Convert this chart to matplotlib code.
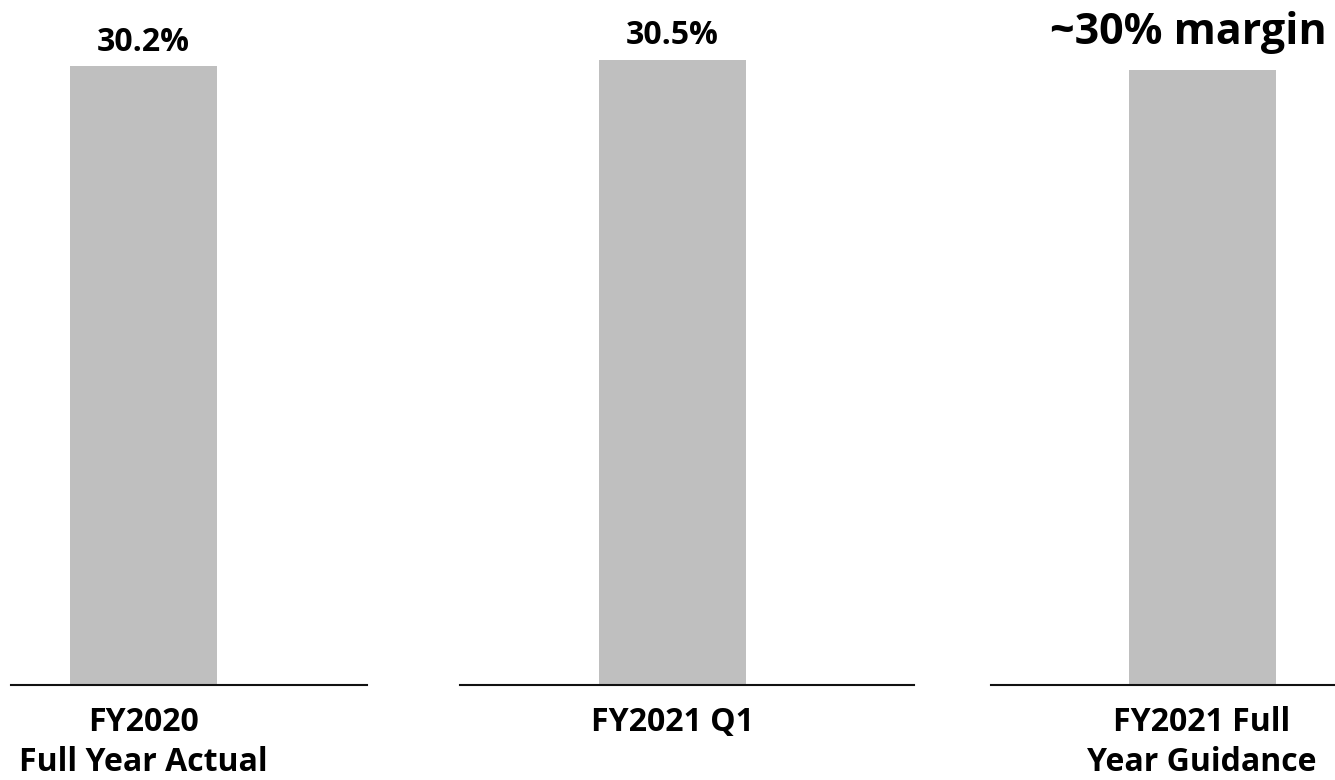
import matplotlib
matplotlib.use("Agg")
import matplotlib.pyplot as plt

plt.rcParams['font.family'] = ['Open Sans', 'DejaVu Sans']
plt.rcParams['font.weight'] = 'bold'

# Operating margin (%)
categories = ["FY2020\nFull Year Actual", "FY2021 Q1", "FY2021 Full\nYear Guidance"]
margins = [30.2, 30.5, 30.0]
value_labels = ["30.2%", "30.5%", None]
guidance_note = "~30% margin"

BAR_COLOR = "#BFBFBF"
W, H, DPI = 1335, 780, 100
fig = plt.figure(figsize=(W / DPI, H / DPI), dpi=DPI)

# Each bar sits on its own short baseline: (left px, right px, bar centre px)
panels = [(11, 367, 143.5), (460, 914, 672.5), (991, 1335, 1202)]
bar_px = 147
base_px = 685
ymax = 33
px_per_unit = 20.5

for (left, right, centre), cat, val, lab in zip(panels, categories, margins, value_labels):
    ax = fig.add_axes([left / W, (H - base_px) / H, (right - left) / W,
                       ymax * px_per_unit / H])
    ax.bar([0], [val], width=1.0, color=BAR_COLOR)
    ax.set_xlim((left - centre) / bar_px, (right - centre) / bar_px)
    ax.set_ylim(0, ymax)
    for s in ("top", "left", "right"):
        ax.spines[s].set_visible(False)
    ax.spines["bottom"].set_linewidth(1.5)
    ax.spines["bottom"].set_color("#111111")
    ax.set_yticks([])
    ax.set_xticks([0])
    ax.set_xticklabels([cat], fontsize=23, fontweight='bold', linespacing=1.3)
    ax.tick_params(axis="x", length=0, pad=15)
    if lab:
        ax.annotate(lab, xy=(0, val), xytext=(0, 11), textcoords="offset points",
                    ha="center", va="baseline", fontsize=23, fontweight='bold',
                    annotation_clip=False)

fig.text(1327 / W, (H - 44) / H, guidance_note, ha="right", va="baseline",
         fontsize=31, fontweight='bold')

fig.savefig("out.png", dpi=DPI, facecolor="white")
